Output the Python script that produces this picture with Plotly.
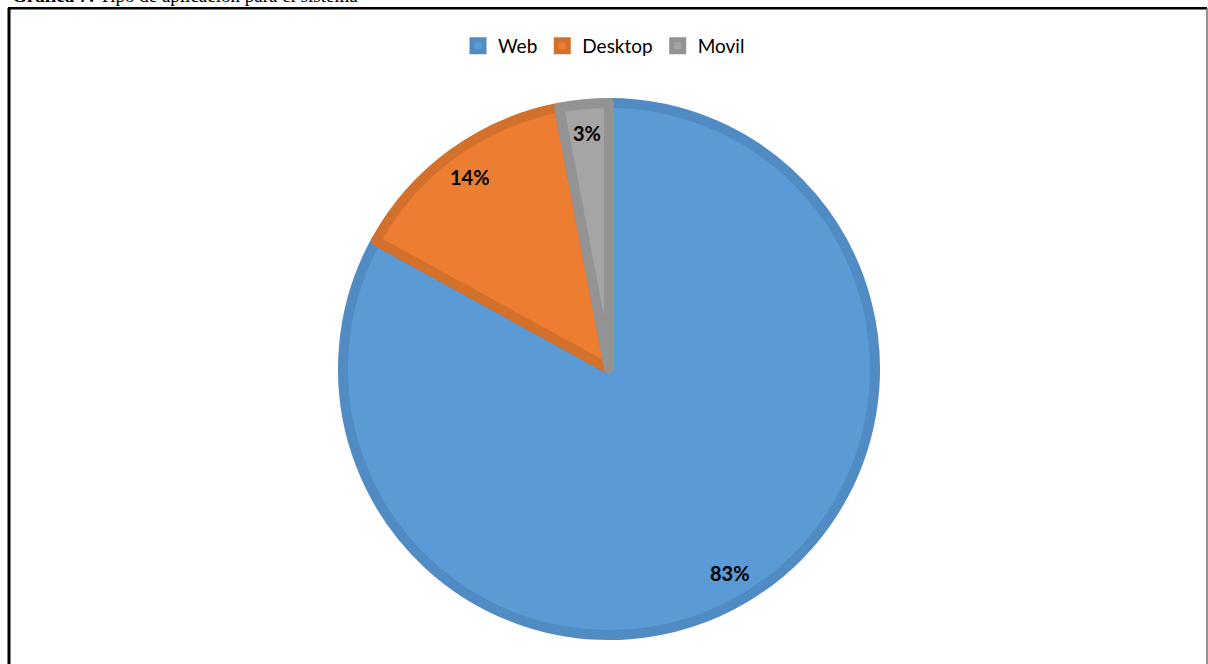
import math
import plotly.graph_objects as go

# Application type shares (percent)
categories = ["Web", "Desktop", "Movil"]
shares = [83, 14, 3]
fill_colors = ["#5B9BD5", "#ED7D31", "#A5A5A5"]
edge_colors = ["#508BC3", "#D3702C", "#939393"]

W, H = 1208, 664

def px_x(x):
    return x / W

def px_y(y):
    return 1 - y / H

# Pie geometry in pixels
cx, cy, r = 609, 369, 266
label_radius = 0.89

fig = go.Figure(
    go.Pie(
        labels=categories,
        values=shares,
        sort=False,
        direction="clockwise",
        rotation=0,
        marker=dict(colors=fill_colors, line=dict(color=edge_colors, width=10)),
        textposition="none",
        domain=dict(x=[px_x(cx - r), px_x(cx + r)], y=[px_y(cy + r), px_y(cy - r)]),
        hoverinfo="label+percent",
    )
)

# Percentage labels placed along each slice's bisector, near the rim
total = sum(shares)
cum = 0
for v in shares:
    mid = (cum + v / 2) / total
    cum += v
    ang = 2 * math.pi * mid
    lx = cx + label_radius * r * math.sin(ang)
    ly = cy - label_radius * r * math.cos(ang)
    fig.add_annotation(
        text=f"<b>{round(100 * v / total)}%</b>",
        xref="paper", yref="paper",
        x=px_x(lx), y=px_y(ly), xanchor="center", yanchor="middle",
        showarrow=False,
        font=dict(family="Lato, Open Sans, sans-serif", size=20, color="#000000"),
    )

# Caption above the frame
fig.add_annotation(
    text="<b>Gráfica 7:</b> Tipo de aplicación para el sistema",
    xref="paper", yref="paper",
    x=px_x(10), y=px_y(8), xanchor="left", yanchor="bottom",
    showarrow=False,
    font=dict(family="Liberation Serif, Times New Roman, serif", size=19, color="#000000"),
)

# Frame around the chart
fig.add_shape(type="line", xref="paper", yref="paper",
              x0=px_x(9), x1=px_x(9), y0=px_y(8), y1=-0.05,
              line=dict(color="#000000", width=3))
fig.add_shape(type="line", xref="paper", yref="paper",
              x0=px_x(8), x1=px_x(1207), y0=px_y(8.3), y1=px_y(8.3),
              line=dict(color="#000000", width=2.5))
fig.add_shape(type="line", xref="paper", yref="paper",
              x0=px_x(1207), x1=px_x(1207), y0=px_y(8), y1=-0.05,
              line=dict(color="#6E6E6E", width=1.5))

fig.update_layout(
    width=W, height=H,
    margin=dict(l=0, r=0, t=0, b=0),
    paper_bgcolor="#FFFFFF",
    plot_bgcolor="#FFFFFF",
    showlegend=True,
    legend=dict(
        orientation="h",
        x=0.5, xanchor="center",
        y=px_y(27), yanchor="top",
        font=dict(family="Lato, Open Sans, sans-serif", size=19, color="#000000"),
        itemwidth=30,
        bgcolor="rgba(0,0,0,0)",
    ),
)

fig.write_html("out.html")
